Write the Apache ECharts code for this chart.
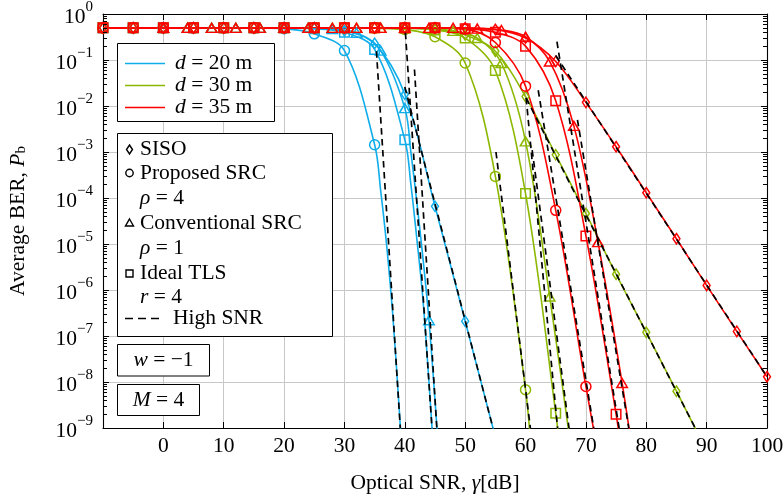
<!DOCTYPE html>
<html>
<head>
<meta charset="utf-8">
<script src="https://cdn.jsdelivr.net/npm/echarts@6/dist/echarts.min.js"></script>
<style>
  html, body { margin: 0; padding: 0; background: #fff; }
  #chart { width: 783px; height: 500px; }
</style>
</head>
<body>
<div id="chart"></div>
<script>
// BER values: [optical SNR in dB, BER]
// markers sit every 5 dB (every 4 dB for conventional SRC); extra points only shape the steep tails

// d = 20 m
var blueSISO = [[-10,0.5],[-5,0.5],[0,0.5],[5,0.5],[10,0.5],[15,0.5],[20,0.5],[25,0.49],[30,0.43],[35,0.23],[40,0.018],[45,6.6e-5],[50,2.1e-7],[55,6.3e-10]];
var blueSRC = [[-10,0.5],[-5,0.5],[0,0.5],[5,0.5],[10,0.5],[15,0.5],[20,0.48],[25,0.37],[30,0.16],[35,1.44e-3],[36,1.45e-4],[37,9.1e-6],[38,2.9e-7],[39,3.6e-9],[40,2.9e-11]];
var blueConv = [[0,0.5],[4,0.5],[8,0.5],[12,0.5],[16,0.5],[20,0.5],[24,0.5],[28,0.47],[32,0.39],[36,0.16],[40,9e-3],[41,1e-3],[42,7.9e-5],[43,5e-6],[44,2.2e-7],[45,4e-9],[46,5e-11]];
var blueTLS = [[-10,0.5],[-5,0.5],[0,0.5],[5,0.5],[10,0.5],[15,0.5],[20,0.5],[25,0.48],[30,0.40],[35,0.17],[40,1.85e-3],[41,2e-4],[42,1.26e-5],[43,6.3e-7],[44,1e-8],[45,1e-10]];

// d = 30 m
var greenSISO = [[-10,0.5],[-5,0.5],[0,0.5],[5,0.5],[10,0.5],[15,0.5],[20,0.5],[25,0.5],[30,0.5],[35,0.5],[40,0.5],[45,0.46],[50,0.35],[55,0.155],[60,0.016],[65,8.7e-4],[70,4.6e-5],[75,2.2e-6],[80,1.2e-7],[85,6.3e-9],[90,3.2e-10]];
var greenSRC = [[-10,0.5],[-5,0.5],[0,0.5],[5,0.5],[10,0.5],[15,0.5],[20,0.5],[25,0.5],[30,0.5],[35,0.49],[40,0.46],[45,0.32],[50,0.086],[55,2.95e-4],[60,6.8e-9],[61,2.5e-10]];
var greenConv = [[0,0.5],[4,0.5],[8,0.5],[12,0.5],[16,0.5],[20,0.5],[24,0.5],[28,0.5],[32,0.5],[36,0.5],[40,0.5],[44,0.48],[48,0.43],[52,0.30],[56,0.086],[60,1.7e-3],[64,7.2e-7],[68,1.3e-10]];
var greenTLS = [[-10,0.5],[-5,0.5],[0,0.5],[5,0.5],[10,0.5],[15,0.5],[20,0.5],[25,0.5],[30,0.5],[35,0.5],[40,0.49],[45,0.45],[50,0.30],[55,0.059],[60,1.25e-4],[65,2.1e-9],[66,1.6e-10]];

// d = 35 m
var redSISO = [[-10,0.5],[-5,0.5],[0,0.5],[5,0.5],[10,0.5],[15,0.5],[20,0.5],[25,0.5],[30,0.5],[35,0.5],[40,0.5],[45,0.5],[50,0.5],[55,0.46],[60,0.3],[65,0.093],[70,0.012],[75,1.3e-3],[80,1.3e-4],[85,1.3e-5],[90,1.26e-6],[95,1.26e-7],[100,1.3e-8]];
var redSRC = [[-10,0.5],[-5,0.5],[0,0.5],[5,0.5],[10,0.5],[15,0.5],[20,0.5],[25,0.5],[30,0.5],[35,0.5],[40,0.5],[45,0.5],[50,0.47],[55,0.24],[60,0.027],[65,5.4e-5],[70,8e-9],[72,2.8e-10]];
var redConv = [[0,0.5],[4,0.5],[8,0.5],[12,0.5],[16,0.5],[20,0.5],[24,0.5],[28,0.5],[32,0.5],[36,0.5],[40,0.5],[44,0.5],[48,0.5],[52,0.48],[56,0.45],[60,0.32],[64,0.093],[68,3.7e-3],[72,1.1e-5],[76,9.5e-9],[78,1.6e-10]];
var redTLS = [[-10,0.5],[-5,0.5],[0,0.5],[5,0.5],[10,0.5],[15,0.5],[20,0.5],[25,0.5],[30,0.5],[35,0.5],[40,0.5],[45,0.5],[50,0.48],[55,0.40],[60,0.20],[65,0.013],[70,1.5e-5],[75,2e-9],[76,2.5e-10]];

// high SNR approximations (straight on the log scale): start and end points
var highSNR = [
  [[35.3,0.155],[39.25,1e-9]],
  [[40.1,0.39],[44.5,1e-9]],
  [[41.6,0.062],[45.3,1e-9]],
  [[40,0.026],[54.6,1e-9]],
  [[55.1,1.0e-3],[60.8,1e-9]],
  [[60.1,0.015],[65.3,1e-9]],
  [[61.1,1.1e-3],[67.2,1e-9]],
  [[60.1,0.0148],[88.1,1e-9]],
  [[62.1,0.022],[71.3,1e-9]],
  [[65.2,0.25],[75.5,1e-9]],
  [[68.6,5e-3],[77.1,1e-9]],
  [[65,0.125],[100,1.3e-8]]
];

var xTicks = [0, 10, 20, 30, 40, 50, 60, 70, 80, 90, 100];
// log minor ticks: 2..9 times each decade
var minorTicks = [];
for (var e = -9; e < 0; e++) {
  for (var k = 2; k <= 9; k++) minorTicks.push([-10, k * Math.pow(10, e)]);
}

var FONT = 'Liberation Serif';
var FS = 21.5;
var BLUE = '#0fadea', GREEN = '#8cb800', RED = '#ff0000';

function curve(data, color, symbol, size, step) {
  return {
    type: 'line',
    data: data.map(function (p) {
      var mark = (p[0] % step === 0) && p[1] >= 1e-9;
      return { value: p, symbol: mark ? symbol : 'none' };
    }),
    smooth: 0.35,
    symbolSize: size,
    showAllSymbol: true,
    lineStyle: { color: color, width: 1.6 },
    itemStyle: { color: 'rgba(0,0,0,0)', borderColor: color, borderWidth: 1.5 },
    clip: true,
    silent: true
  };
}

var series = [];
[[blueSISO, blueSRC, blueConv, blueTLS, BLUE],
 [greenSISO, greenSRC, greenConv, greenTLS, GREEN],
 [redSISO, redSRC, redConv, redTLS, RED]].forEach(function (g) {
  series.push(curve(g[0], g[4], 'diamond', [7, 10.5], 5));
  series.push(curve(g[1], g[4], 'circle', 10, 5));
  series.push(curve(g[2], g[4], 'triangle', [10.5, 9], 4));
  series.push(curve(g[3], g[4], 'rect', 9.5, 5));
});
highSNR.forEach(function (seg) {
  series.push({
    type: 'line', data: seg, symbol: 'none', smooth: false, clip: true, silent: true, z: 5,
    lineStyle: { color: '#000', width: 1.7, type: [6.5, 4.5] }
  });
});
// minor ticks of the log axis, on the left and right frame
series.push({
  type: 'custom', data: minorTicks, silent: true, z: 6, clip: false,
  encode: { x: 0, y: 1 },
  renderItem: function (params, api) {
    var v = api.value(1);
    var pl = api.coord([-10, v]);
    var pr = api.coord([100, v]);
    var y = Math.round(pl[1]) + 0.5;
    var st = { stroke: '#000', lineWidth: 1 };
    return { type: 'group', children: [
      { type: 'line', shape: { x1: pl[0], y1: y, x2: pl[0] + 4, y2: y }, style: st },
      { type: 'line', shape: { x1: pr[0] - 4, y1: y, x2: pr[0], y2: y }, style: st }
    ] };
  }
});

function powLabel(v) {
  var e = Math.round(Math.log10(v));
  var s = e < 0 ? '\u2212' + (-e) : String(e);
  return '{b|10}{s|' + s + '}';
}

var grey = '#c8c8c8';
var axisCommon = {
  axisLine: { show: true, onZero: false, lineStyle: { color: '#000', width: 1.1 } },
  axisTick: { show: true, inside: true, length: 6, lineStyle: { color: '#000', width: 1 } }
};

var option = {
  animation: false,
  grid: { left: 103, right: 16, top: 14, bottom: 72, outerBoundsMode: 'none' },
  xAxis: [
    Object.assign({
      type: 'value', min: -10, max: 100, interval: 10, position: 'bottom',
      splitLine: { show: true, lineStyle: { color: grey, width: 1 } },
      axisLabel: {
        margin: 7, color: '#000', fontFamily: FONT, fontSize: FS,
        formatter: function (v) { return xTicks.indexOf(v) >= 0 ? String(v) : ''; }
      },
      name: '{n|Optical SNR, }{i|\u03b3}{n|[dB]}', nameLocation: 'middle', nameGap: 44,
      nameTextStyle: { rich: {
        n: { fontFamily: FONT, fontSize: FS, color: '#000' },
        i: { fontFamily: FONT, fontSize: FS, color: '#000', fontStyle: 'italic' }
      } }
    }, axisCommon),
    Object.assign({
      type: 'value', min: -10, max: 100, interval: 10, position: 'top',
      splitLine: { show: false }, axisLabel: { show: false }
    }, axisCommon)
  ],
  yAxis: [
    Object.assign({
      type: 'log', logBase: 10, min: 1e-9, max: 1, interval: 1, splitNumber: 9, position: 'left',
      splitLine: { show: true, lineStyle: { color: grey, width: 1 } },
      axisLabel: {
        margin: 10, color: '#000', fontFamily: FONT, formatter: powLabel,
        rich: {
          b: { fontFamily: FONT, fontSize: FS, color: '#000', lineHeight: 29, verticalAlign: 'bottom' },
          s: { fontFamily: FONT, fontSize: 15, color: '#000', lineHeight: 15, verticalAlign: 'top' }
        }
      },
      name: '{n|Average BER, }{i|P}{sub|b}', nameLocation: 'middle', nameGap: 74, nameRotate: 90,
      nameTextStyle: { rich: {
        n: { fontFamily: FONT, fontSize: FS, color: '#000', lineHeight: 27, verticalAlign: 'bottom' },
        i: { fontFamily: FONT, fontSize: FS, color: '#000', fontStyle: 'italic', lineHeight: 27, verticalAlign: 'bottom' },
        sub: { fontFamily: FONT, fontSize: 15, color: '#000', lineHeight: 15, verticalAlign: 'bottom' }
      } }
    }, axisCommon),
    Object.assign({
      type: 'log', logBase: 10, min: 1e-9, max: 1, interval: 1, splitNumber: 9, position: 'right',
      splitLine: { show: false }, axisLabel: { show: false }
    }, axisCommon)
  ],
  series: series
};

// legend boxes (pgfplots style)
var rich = {
  n: { fontFamily: FONT, fontSize: FS, color: '#000' },
  i: { fontFamily: FONT, fontSize: FS, color: '#000', fontStyle: 'italic' }
};
function label(x, y, text, align) {
  return { type: 'text', x: x, y: y, z: 101,
    style: { text: text, rich: rich, fontFamily: FONT, fontSize: FS, fill: '#000',
      align: align || 'left', verticalAlign: 'middle' } };
}
function box(x, y, w, h) {
  return { type: 'rect', z: 100, shape: { x: x, y: y, width: w, height: h },
    style: { fill: '#fff', stroke: '#000', lineWidth: 1 } };
}
var icon = { fill: 'none', stroke: '#000', lineWidth: 1.4 };
var g = [];
// colour legend
g.push(box(117.5, 43.5, 157, 78));
[[BLUE, '20', 63.5], [GREEN, '30', 85.5], [RED, '35', 107.5]].forEach(function (r) {
  g.push({ type: 'line', z: 101, shape: { x1: 125, y1: r[2], x2: 165, y2: r[2] }, style: { stroke: r[0], lineWidth: 1.7 } });
  g.push(label(175, r[2], '{i|d} = ' + r[1] + ' m'));
});
// scheme legend
g.push(box(117.5, 133.5, 215, 203));
g.push({ type: 'polygon', z: 101, shape: { points: [[129.5, 145], [132.5, 149.5], [129.5, 154], [126.5, 149.5]] }, style: icon });
g.push(label(140, 149.5, 'SISO'));
g.push({ type: 'circle', z: 101, shape: { cx: 129.5, cy: 173, r: 3.7 }, style: icon });
g.push(label(140, 173, 'Proposed SRC'));
g.push(label(140, 198, '{i|\u03c1} = 4'));
g.push({ type: 'polygon', z: 101, shape: { points: [[129.5, 219], [133.5, 226], [125.5, 226]] }, style: icon });
g.push(label(140, 223.5, 'Conventional SRC'));
g.push(label(140, 248, '{i|\u03c1} = 1'));
g.push({ type: 'rect', z: 101, shape: { x: 126, y: 270, width: 7, height: 7 }, style: icon });
g.push(label(140, 273.5, 'Ideal TLS'));
g.push(label(140, 297.5, '{i|r} = 4'));
g.push({ type: 'line', z: 101, shape: { x1: 125, y1: 318.5, x2: 162, y2: 318.5 }, style: { stroke: '#000', lineWidth: 1.6, lineDash: [8, 5] } });
g.push(label(173, 318.5, 'High SNR'));
// parameter boxes
g.push(box(117.5, 344.5, 92, 31.5));
g.push(label(163.5, 360.5, '{i|w} = \u22121', 'center'));
g.push(box(117.5, 384.5, 82, 31));
g.push(label(158.5, 400, '{i|M} = 4', 'center'));
option.graphic = { elements: g };

var chart = echarts.init(document.getElementById('chart'));
chart.setOption(option);
</script>
</body>
</html>
